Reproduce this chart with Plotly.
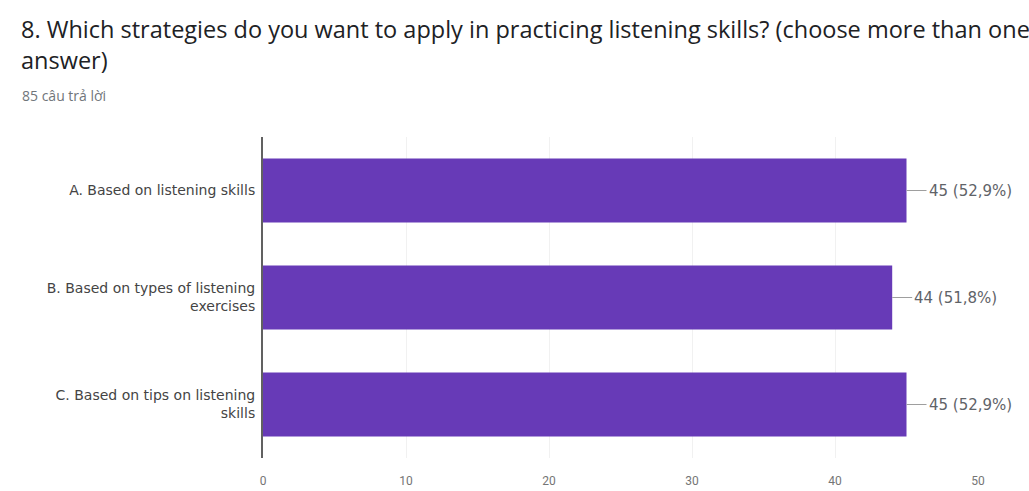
import plotly.graph_objects as go

categories = [
    "A. Based on listening skills",
    "B. Based on types of listening<br>exercises",
    "C. Based on tips on listening<br>skills",
]
counts = [45, 44, 45]
percent_labels = ["52,9%", "51,8%", "52,9%"]
tick_values = [0, 10, 20, 30, 40, 50]

title_text = "8. Which strategies do you want to apply in practicing listening skills? (choose more than one<br>answer)"
subtitle_text = "85 câu trả lời"

fig = go.Figure()
fig.add_trace(go.Bar(
    x=counts,
    y=categories,
    orientation="h",
    marker=dict(color="#673AB7", line=dict(width=0)),
    width=0.6,
    hoverinfo="x+y",
))

for c, cnt, p in zip(categories, counts, percent_labels):
    fig.add_annotation(
        x=cnt, y=c, xref="x", yref="y",
        text=f"{cnt} ({p})",
        showarrow=True, arrowhead=0, arrowwidth=1, arrowcolor="#9e9e9e",
        ax=20, ay=0, xanchor="left",
        font=dict(family="DejaVu Sans", size=15, color="#5f6368"),
    )

fig.add_annotation(
    x=0, y=1, xref="paper", yref="paper", xanchor="left", yanchor="top",
    xshift=-263 + 19, yshift=137 - 11,
    text=title_text, showarrow=False, align="left",
    font=dict(family="Open Sans, Roboto", size=23.5, color="#202124"),
)
fig.add_annotation(
    x=0, y=1, xref="paper", yref="paper", xanchor="left", yanchor="top",
    xshift=-263 + 20, yshift=137 - 84,
    text=subtitle_text, showarrow=False, align="left",
    font=dict(family="Open Sans, Roboto", size=14, color="#70757a"),
)

fig.update_layout(
    width=1029, height=491,
    margin=dict(l=263, r=51, t=137, b=33),
    paper_bgcolor="white", plot_bgcolor="white",
    showlegend=False,
    xaxis=dict(
        range=[0, 50], tickvals=tick_values, automargin=False,
        showgrid=True, gridcolor="#f1f1f1", gridwidth=1,
        zeroline=False, showline=False,
        ticks="outside", ticklen=12, tickcolor="rgba(0,0,0,0)",
        tickfont=dict(family="Roboto, Arial", size=12, color="#757575"),
        fixedrange=True,
    ),
    yaxis=dict(
        autorange="reversed", automargin=False,
        showline=True, linecolor="#616161", linewidth=2,
        showgrid=False, ticks="", ticklabelstandoff=3,
        tickfont=dict(family="DejaVu Sans", size=14, color="#444444"),
        fixedrange=True,
    ),
)

fig.write_html("out.html")
